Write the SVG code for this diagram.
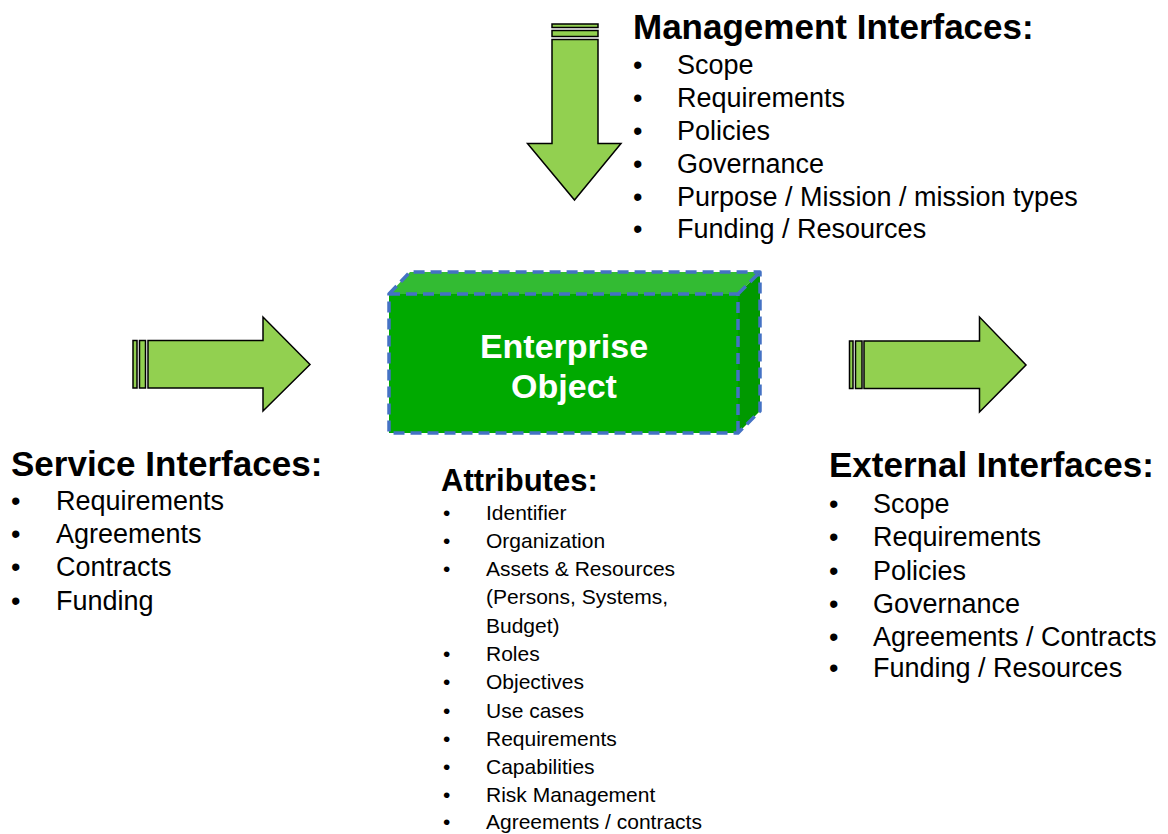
<svg xmlns="http://www.w3.org/2000/svg" width="1168" height="834" viewBox="0 0 1168 834">
<style>
.arr{fill:#92D050;stroke:#000;stroke-width:1.5;stroke-linejoin:miter}
.t{font-family:"Liberation Sans",Arial,sans-serif;fill:#000}
.h{font-weight:bold;font-size:35px}
.ha{font-weight:bold;font-size:31px}
.b{font-size:27px}
.s{font-size:21px}
.box{stroke:#4472C4;stroke-width:3.5;stroke-dasharray:11,6;stroke-linejoin:round}
.w{font-family:"Liberation Sans",Arial,sans-serif;font-weight:bold;font-size:34px;fill:#fff;text-anchor:middle}
</style>
<rect width="1168" height="834" fill="#fff"/>
<g id="connectors">
<g id="arrow-top">
<rect class="arr" x="552" y="24" width="46" height="3.5"/>
<rect class="arr" x="552" y="30.5" width="46" height="6"/>
<polygon class="arr" points="552,39.5 598,39.5 598,143.5 621,143.5 574.5,200 527.5,143.5 552,143.5"/>
</g>
<g id="arrow-left">
<rect class="arr" x="133" y="340.5" width="4" height="47.5"/>
<rect class="arr" x="139.5" y="340.5" width="6" height="47.5"/>
<polygon class="arr" points="148,340.5 263,340.5 263,317 310,364.5 263,411 263,388 148,388"/>
</g>
<g id="arrow-right">
<rect class="arr" x="849.5" y="341" width="3.5" height="47.5"/>
<rect class="arr" x="855.5" y="341" width="6.5" height="47.5"/>
<polygon class="arr" points="864,341 979.5,341 979.5,317 1026,365 979.5,412 979.5,388.5 864,388.5"/>
</g>
</g>
<g id="enterprise-object">
<polygon points="389,294 410,272 760,272 738,294" fill="#33BB33"/>
<polygon points="738,294 760,272 760,411 738,433" fill="#009900"/>
<rect x="389" y="294" width="349" height="139" fill="#00AA00"/>
<path class="box" fill="none" d="M389,294 L410,272 L760,272 L760,411 L738,433 L389,433 Z M389,294 L738,294 L738,433 M738,294 L760,272"/>
<text class="w" x="564" y="358">Enterprise</text>
<text class="w" x="564" y="398">Object</text>
</g>
<g id="management-interfaces">
<text class="t h" x="633" y="39">Management Interfaces:</text>
<text class="t b" x="633" y="74">•</text><text class="t b" x="677" y="74">Scope</text>
<text class="t b" x="633" y="107">•</text><text class="t b" x="677" y="107">Requirements</text>
<text class="t b" x="633" y="140">•</text><text class="t b" x="677" y="140">Policies</text>
<text class="t b" x="633" y="173">•</text><text class="t b" x="677" y="173">Governance</text>
<text class="t b" x="633" y="206">•</text><text class="t b" x="677" y="206">Purpose / Mission / mission types</text>
<text class="t b" x="633" y="238">•</text><text class="t b" x="677" y="238">Funding / Resources</text>
</g>
<g id="service-interfaces">
<text class="t h" x="11" y="476">Service Interfaces:</text>
<text class="t b" x="11" y="510">•</text><text class="t b" x="56" y="510">Requirements</text>
<text class="t b" x="11" y="543">•</text><text class="t b" x="56" y="543">Agreements</text>
<text class="t b" x="11" y="576">•</text><text class="t b" x="56" y="576">Contracts</text>
<text class="t b" x="11" y="610">•</text><text class="t b" x="56" y="610">Funding</text>
</g>
<g id="external-interfaces">
<text class="t h" x="829" y="477">External Interfaces:</text>
<text class="t b" x="829" y="513">•</text><text class="t b" x="873" y="513">Scope</text>
<text class="t b" x="829" y="546">•</text><text class="t b" x="873" y="546">Requirements</text>
<text class="t b" x="829" y="580">•</text><text class="t b" x="873" y="580">Policies</text>
<text class="t b" x="829" y="613">•</text><text class="t b" x="873" y="613">Governance</text>
<text class="t b" x="829" y="646">•</text><text class="t b" x="873" y="646">Agreements / Contracts</text>
<text class="t b" x="829" y="677">•</text><text class="t b" x="873" y="677">Funding / Resources</text>
</g>
<g id="attributes">
<text class="t ha" x="441" y="491">Attributes:</text>
<text class="t s" x="443" y="520">•</text><text class="t s" x="486" y="520">Identifier</text>
<text class="t s" x="443" y="548">•</text><text class="t s" x="486" y="548">Organization</text>
<text class="t s" x="443" y="576">•</text><text class="t s" x="486" y="576">Assets &amp; Resources</text>
<text class="t s" x="486" y="604">(Persons, Systems,</text>
<text class="t s" x="486" y="633">Budget)</text>
<text class="t s" x="443" y="661">•</text><text class="t s" x="486" y="661">Roles</text>
<text class="t s" x="443" y="689">•</text><text class="t s" x="486" y="689">Objectives</text>
<text class="t s" x="443" y="718">•</text><text class="t s" x="486" y="718">Use cases</text>
<text class="t s" x="443" y="746">•</text><text class="t s" x="486" y="746">Requirements</text>
<text class="t s" x="443" y="774">•</text><text class="t s" x="486" y="774">Capabilities</text>
<text class="t s" x="443" y="802">•</text><text class="t s" x="486" y="802">Risk Management</text>
<text class="t s" x="443" y="829">•</text><text class="t s" x="486" y="829">Agreements / contracts</text>
</g>
</svg>
